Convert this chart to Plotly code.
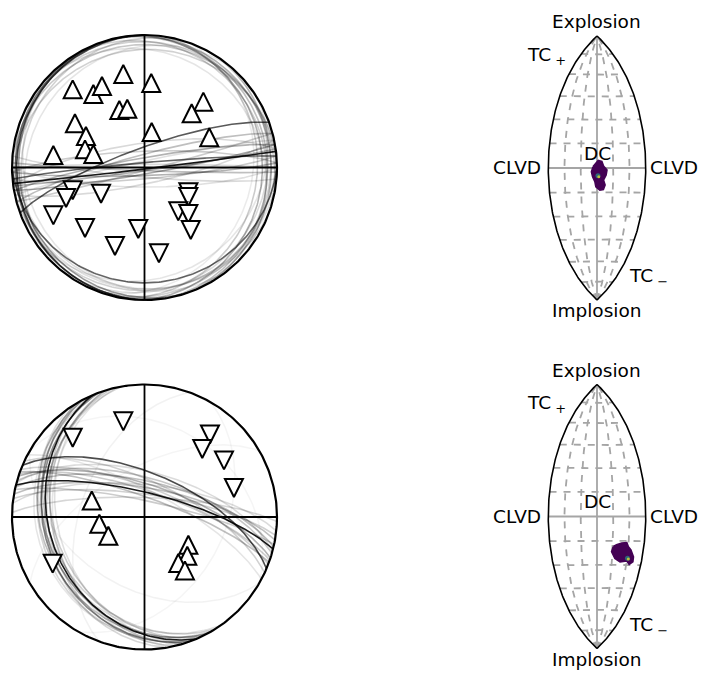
import numpy as np
import plotly.graph_objects as go

W, H = 701, 673

# ---------------- data ----------------
# Station polarities, lower-hemisphere equal-area positions (east, north) on unit disk
ball1_up_east = [-0.160, 0.051, -0.542, -0.386, -0.321, -0.190, -0.130, -0.525, -0.442, -0.449, -0.386, -0.688, 0.054, 0.444, 0.356, 0.489]
ball1_up_north = [0.706, 0.638, 0.590, 0.555, 0.615, 0.434, 0.443, 0.334, 0.238, 0.137, 0.102, 0.094, 0.268, 0.497, 0.409, 0.228]
ball1_down_east = [-0.542, -0.592, -0.328, -0.688, -0.449, -0.223, -0.047, 0.109, 0.331, 0.331, 0.255, 0.331, 0.349]
ball1_down_north = [-0.172, -0.230, -0.198, -0.361, -0.457, -0.592, -0.464, -0.648, -0.187, -0.223, -0.331, -0.351, -0.472]

ball2_up_east = [-0.398, -0.341, -0.273, 0.331, 0.323, 0.255, 0.305]
ball2_up_north = [0.125, -0.051, -0.141, -0.209, -0.292, -0.347, -0.403]
ball2_down_east = [-0.160, -0.542, 0.494, 0.436, 0.600, 0.675, -0.693]
ball2_down_north = [0.722, 0.598, 0.623, 0.513, 0.427, 0.219, -0.352]

# Nodal planes (strike, dip in degrees, right-hand rule) and their drawing opacity
ball1_plane_strike = [83, 250, 265, 80, 260, 88, 255, 92, 268, 75, 85, 262, 95, 78, 270, 258, 90, 82,
                      90, 180, 160, 0, 350, 10, 330, 270, 260, 290, 80, 110, 200, 30, 60, 220, 140, 310, 20, 40,
                      95, 170, 345]
ball1_plane_dip = [89, 78, 87, 86, 84, 85, 82, 88, 80, 88, 83, 75, 84, 80, 88, 86, 78, 88,
                   14, 4, 6, 12, 8, 16, 10, 8, 12, 6, 8, 10, 8, 6, 18, 14, 12, 15, 20, 10,
                   9, 3, 5]
ball1_plane_alpha = [0.9, 0.65, 0.6, 0.35, 0.3, 0.3, 0.25, 0.25, 0.2, 0.2, 0.2, 0.15, 0.15, 0.15, 0.15, 0.12, 0.12, 0.3,
                     0.6, 0.7, 0.4, 0.3, 0.25, 0.2, 0.18, 0.22, 0.18, 0.18, 0.18, 0.14, 0.18, 0.18, 0.1, 0.1, 0.1, 0.1, 0.08, 0.14,
                     0.12, 0.5, 0.3]

ball2_plane_strike = [284, 293, 288, 280, 290, 286, 282, 295, 278, 291, 285, 276, 298, 283, 289, 272,
                      157, 160, 152, 163, 150, 166, 155, 148, 170, 158, 162, 145, 154, 168,
                      200, 30, 120, 300, 240]
ball2_plane_dip = [75, 63, 70, 72, 78, 66, 80, 68, 76, 72, 62, 70, 74, 68, 74, 78,
                   29, 25, 27, 31, 24, 28, 33, 30, 26, 22, 35, 27, 20, 32,
                   50, 40, 45, 30, 60]
ball2_plane_alpha = [0.9, 0.7, 0.3, 0.25, 0.25, 0.22, 0.2, 0.18, 0.18, 0.18, 0.14, 0.14, 0.1, 0.25, 0.2, 0.16,
                     0.9, 0.45, 0.35, 0.25, 0.25, 0.2, 0.2, 0.18, 0.16, 0.16, 0.12, 0.12, 0.1, 0.1,
                     0.05, 0.04, 0.05, 0.04, 0.04]

# Source-type lune (gamma = longitude, delta = latitude, degrees)
lune_gamma_edge = [-30, 30]
lune_gamma_dashed = [-20, -10, 10, 20]
lune_delta_dashed = [-75, -60, -45, -30, -15, 15, 30, 45, 60, 75]

lune1_pdf_gamma = [-2.3, -3.3, -2.6, -1.2, -0.6, 1.8, 3.9, 4.9, 3.9, 5.5, 6.0, 3.9, 2.9, 0.8]
lune1_pdf_delta = [0.8, -2.3, -5.3, -8.4, -11.5, -13.5, -13.1, -10.4, -7.4, -4.3, -1.2, 1.2, 3.9, 4.5]
lune1_peak_gamma = [0.6, 1.1]
lune1_peak_delta = [-4.8, -5.4]

lune2_pdf_gamma = [10.5, 9.6, 12.0, 15.6, 20.0, 22.0, 24.1, 24.0, 21.8, 20.0, 18.8, 15.7, 12.5]
lune2_pdf_delta = [-18.6, -21.7, -25.9, -28.0, -27.3, -29.4, -27.9, -24.8, -20.6, -18.6, -16.1, -16.5, -17.5]
lune2_peak_gamma = [20.3, 20.9]
lune2_peak_delta = [-25.8, -26.2]

# ---------------- helpers ----------------
def great_circle(strike, dip, n=181):
    s = np.radians(strike)
    d = np.radians(dip)
    t = np.linspace(0, np.pi, n)
    sv = np.array([np.cos(s), np.sin(s), 0.0])
    dd = s + np.pi / 2
    dv = np.array([np.cos(d) * np.cos(dd), np.cos(d) * np.sin(dd), np.sin(d)])
    v = np.outer(np.cos(t), sv) + np.outer(np.sin(t), dv)
    north, east, down = v[:, 0], v[:, 1], np.clip(v[:, 2], 0, 1)
    plunge = np.arcsin(down)
    az = np.arctan2(east, north)
    r = np.sqrt(2) * np.sin((np.pi / 2 - plunge) / 2)
    return r * np.sin(az), r * np.cos(az)


def hammer(gamma_deg, delta_deg):
    lam = np.radians(np.asarray(gamma_deg, dtype=float))
    phi = np.radians(np.asarray(delta_deg, dtype=float))
    den = np.sqrt(1 + np.cos(phi) * np.cos(lam / 2))
    return 2 * np.sqrt(2) * np.cos(phi) * np.sin(lam / 2) / den, np.sqrt(2) * np.sin(phi) / den


fig = go.Figure()

def domain(center_px, half_range, scale, total, from_top=False):
    c = total - center_px if from_top else center_px
    return [(c - half_range * scale) / total, (c + half_range * scale) / total]

BALL_R = 132.5
LUNE_S = 93.34
BR = 1.08
LX, LY = 1.1, 1.6
panels = {
    1: dict(kind="ball", cx=144.5, cy=167.5),
    2: dict(kind="lune", cx=597.0, cy=168.0),
    3: dict(kind="ball", cx=144.5, cy=517.0),
    4: dict(kind="lune", cx=597.0, cy=516.5),
}
for i, p in panels.items():
    xa = "xaxis" if i == 1 else f"xaxis{i}"
    ya = "yaxis" if i == 1 else f"yaxis{i}"
    if p["kind"] == "ball":
        xd = domain(p["cx"], BR, BALL_R, W)
        yd = domain(p["cy"], BR, BALL_R, H, from_top=True)
        xr, yr = [-BR, BR], [-BR, BR]
    else:
        xd = domain(p["cx"], LX, LUNE_S, W)
        yd = domain(p["cy"], LY, LUNE_S, H, from_top=True)
        xr, yr = [-LX, LX], [-LY, LY]
    fig.update_layout({
        xa: dict(domain=xd, range=xr, visible=False, fixedrange=True),
        ya: dict(domain=yd, range=yr, visible=False, fixedrange=True),
    })


def add_ball(idx, strikes, dips, alphas, up_e, up_n, dn_e, dn_n):
    xr = "x" if idx == 1 else f"x{idx}"
    yr = "y" if idx == 1 else f"y{idx}"
    order = np.argsort(alphas)
    for k in order:
        x, y = great_circle(strikes[k], dips[k])
        fig.add_trace(go.Scatter(x=x, y=y, mode="lines", xaxis=xr, yaxis=yr,
                                 line=dict(color=f"rgba(0,0,0,{alphas[k]})", width=1.6),
                                 hoverinfo="skip", showlegend=False))
    fig.add_trace(go.Scatter(x=[-1, 1, None, 0, 0], y=[0, 0, None, -1, 1], mode="lines",
                             xaxis=xr, yaxis=yr, line=dict(color="black", width=1.8),
                             hoverinfo="skip", showlegend=False))
    th = np.linspace(0, 2 * np.pi, 361)
    fig.add_trace(go.Scatter(x=np.cos(th), y=np.sin(th), mode="lines", xaxis=xr, yaxis=yr,
                             line=dict(color="black", width=2.2), hoverinfo="skip", showlegend=False))
    ms = 18
    fig.add_trace(go.Scatter(x=up_e, y=up_n, mode="markers", xaxis=xr, yaxis=yr, cliponaxis=False,
                             marker=dict(symbol="arrow-down", angle=180, standoff=ms / 2, size=ms,
                                         color="white", line=dict(color="black", width=2)),
                             showlegend=False, name="positive"))
    fig.add_trace(go.Scatter(x=dn_e, y=dn_n, mode="markers", xaxis=xr, yaxis=yr, cliponaxis=False,
                             marker=dict(symbol="arrow-down", angle=0, standoff=ms / 2, size=ms,
                                         color="white", line=dict(color="black", width=2)),
                             showlegend=False, name="negative"))


def add_lune(idx, pg, pd_, kg, kd):
    xr = f"x{idx}"
    yr = f"y{idx}"
    dlat = np.linspace(-90, 90, 181)
    dlon = np.linspace(-30, 30, 61)
    grey = "rgb(165,165,165)"
    for g in lune_gamma_dashed:
        x, y = hammer(np.full_like(dlat, g), dlat)
        fig.add_trace(go.Scatter(x=x, y=y, mode="lines", xaxis=xr, yaxis=yr,
                                 line=dict(color=grey, width=1.8, dash="7px,7px"),
                                 hoverinfo="skip", showlegend=False))
    for d in lune_delta_dashed:
        x, y = hammer(dlon, np.full_like(dlon, d))
        fig.add_trace(go.Scatter(x=x, y=y, mode="lines", xaxis=xr, yaxis=yr,
                                 line=dict(color=grey, width=1.8, dash="7px,7px"),
                                 hoverinfo="skip", showlegend=False))
    x1, y1 = hammer(np.zeros_like(dlat), dlat)
    x2, y2 = hammer(dlon, np.zeros_like(dlon))
    fig.add_trace(go.Scatter(x=list(x1) + [None] + list(x2), y=list(y1) + [None] + list(y2),
                             mode="lines", xaxis=xr, yaxis=yr,
                             line=dict(color=grey, width=1.8), hoverinfo="skip", showlegend=False))
    ex, ey = [], []
    for g in lune_gamma_edge:
        x, y = hammer(np.full_like(dlat, g), dlat)
        ex += list(x) + [None]
        ey += list(y) + [None]
    fig.add_trace(go.Scatter(x=ex, y=ey, mode="lines", xaxis=xr, yaxis=yr,
                             line=dict(color="black", width=1.6), hoverinfo="skip", showlegend=False))
    bx, by = hammer(pg, pd_)
    fig.add_trace(go.Scatter(x=list(bx) + [bx[0]], y=list(by) + [by[0]], mode="lines", fill="toself",
                             fillcolor="#440154", xaxis=xr, yaxis=yr,
                             line=dict(color="#440154", width=2), hoverinfo="skip", showlegend=False))
    kx, ky = hammer(kg, kd)
    fig.add_trace(go.Scatter(x=kx, y=ky, mode="markers", xaxis=xr, yaxis=yr,
                             marker=dict(color=["#21918c", "#fde725"], size=[5, 3], line=dict(width=0)),
                             hoverinfo="skip", showlegend=False))

    f = dict(family="DejaVu Sans", size=18.5, color="black")
    labels = [
        ("Explosion", 0.0, 1.567, "center"),
        ("Implosion", 0.0, -1.53, "center"),
        ("TC<sub> +</sub>", -0.76, 1.20, "left"),
        ("CLVD", -0.585, 0.0, "right"),
        ("CLVD", 0.56, 0.0, "left"),
        ("DC", 0.005, 0.157, "center"),
        ("TC<sub> \u2212</sub>", 0.327, -1.173, "left"),
    ]
    for txt, x, y, xa in labels:
        fig.add_annotation(text=txt, x=x, y=y, xref=xr, yref=yr, xanchor=xa, yanchor="middle",
                           showarrow=False, font=f, borderpad=0)


add_ball(1, ball1_plane_strike, ball1_plane_dip, ball1_plane_alpha,
         ball1_up_east, ball1_up_north, ball1_down_east, ball1_down_north)
add_ball(3, ball2_plane_strike, ball2_plane_dip, ball2_plane_alpha,
         ball2_up_east, ball2_up_north, ball2_down_east, ball2_down_north)
add_lune(2, lune1_pdf_gamma, lune1_pdf_delta, lune1_peak_gamma, lune1_peak_delta)
add_lune(4, lune2_pdf_gamma, lune2_pdf_delta, lune2_peak_gamma, lune2_peak_delta)

fig.update_layout(width=W, height=H, margin=dict(l=0, r=0, t=0, b=0),
                  paper_bgcolor="white", plot_bgcolor="rgba(0,0,0,0)",
                  showlegend=False, font=dict(family="DejaVu Sans"))

fig.write_html("out.html", config={"displayModeBar": False, "staticPlot": True},
               post_script="document.body.style.margin='0';")
